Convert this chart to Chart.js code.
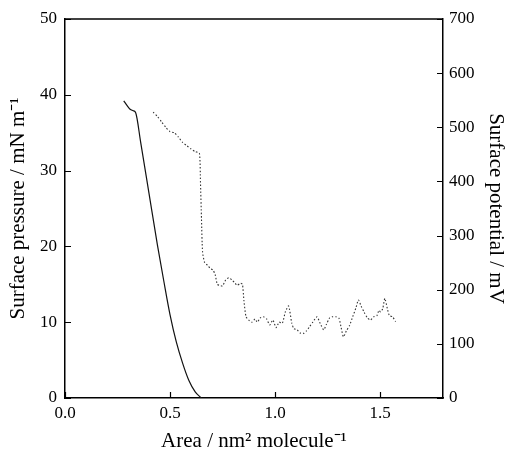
<!DOCTYPE html>
<html><head><meta charset="utf-8">
<script src="https://cdn.jsdelivr.net/npm/chart.js@4/dist/chart.umd.min.js"></script>
<style>html,body{margin:0;padding:0;background:#fff;}canvas{display:block;}</style>
</head><body>
<canvas id="c" width="508" height="454"></canvas>
<script>
// ---- data ----
const pressureArea   = [0.28,0.295,0.31,0.325,0.337,0.36,0.40,0.44,0.47,0.50,0.53,0.56,0.59,0.62,0.649];
const pressureValues = [39.2,38.6,38.1,37.9,37.6,33.8,27.0,20.2,15.5,11.0,7.4,4.6,2.3,0.8,0];
const potentialArea  = [0.42,0.44,0.46,0.48,0.50,0.52,0.54,0.56,0.58,0.60,0.62,0.64,0.645,0.65,0.655,0.665,0.68,0.69,0.705,0.715,0.725,0.735,0.75,0.765,0.78,0.795,0.81,0.82,0.835,0.845,0.852,0.862,0.875,0.89,0.905,0.915,0.93,0.945,0.96,0.975,0.99,1.005,1.02,1.035,1.05,1.065,1.08,1.09,1.105,1.12,1.135,1.15,1.165,1.18,1.2,1.215,1.232,1.245,1.26,1.273,1.29,1.305,1.315,1.326,1.34,1.355,1.37,1.385,1.397,1.41,1.425,1.44,1.455,1.47,1.485,1.495,1.503,1.513,1.523,1.535,1.545,1.56,1.574];
const potentialValues= [528,520,510,500,492,490,482,472,466,460,455,452,400,330,270,250,245,240,236,228,210,208,207,218,222,218,212,208,212,210,180,150,144,140,146,140,148,150,146,135,144,130,140,138,160,170,138,128,126,120,119,124,132,140,150,138,126,136,148,150,150,147,130,113,124,134,150,166,181,170,158,148,144,150,152,162,159,165,184,165,152,150,141];
const xTicks  = [0, 0.5, 1.0, 1.5];
const yTicks  = [0, 10, 20, 30, 40, 50];
const y2Ticks = [0, 100, 200, 300, 400, 500, 600, 700];
const xTitle  = 'Area / nm² molecule⁻¹';
const yTitle  = 'Surface pressure / mN m⁻¹';
const y2Title = 'Surface potential / mV';

const FONT = 'Liberation Serif';
const pressurePts  = pressureArea.map((a,i)=>({x:a, y:pressureValues[i]}));
const potentialPts = potentialArea.map((a,i)=>({x:a, y:potentialValues[i]}));

const inwardTicks = {
  id:'inwardTicks',
  afterDraw(chart){
    const ctx = chart.ctx, a = chart.chartArea;
    const sx = chart.scales.x, sy = chart.scales.y, sy2 = chart.scales.y2;
    ctx.save();
    ctx.strokeStyle = '#000'; ctx.lineWidth = 1.5;
    ctx.beginPath(); ctx.moveTo(a.left, a.top); ctx.lineTo(a.right, a.top); ctx.stroke();
    ctx.lineWidth = 1.2;
    ctx.beginPath();
    sx.ticks.forEach(t=>{ const p = Math.round(sx.getPixelForValue(t.value))+0.5; ctx.moveTo(p, a.bottom); ctx.lineTo(p, a.bottom-6); });
    sy.ticks.forEach(t=>{ const p = Math.round(sy.getPixelForValue(t.value))+0.5; ctx.moveTo(a.left, p); ctx.lineTo(a.left+6, p); });
    sy2.ticks.forEach(t=>{ const p = Math.round(sy2.getPixelForValue(t.value))+0.5; ctx.moveTo(a.right, p); ctx.lineTo(a.right-6, p); });
    ctx.stroke();
    ctx.restore();
  }
};

new Chart(document.getElementById('c'), {
  type: 'scatter',
  data: { datasets: [
    { data: pressurePts, yAxisID:'y', showLine:true, borderColor:'#111', borderWidth:1.2, pointRadius:0, cubicInterpolationMode:'monotone', fill:false },
    { data: potentialPts, yAxisID:'y2', showLine:true, borderColor:'#333', borderWidth:1.1, borderDash:[1.5,2], pointRadius:0, tension:0.2, fill:false }
  ]},
  options: {
    responsive:false, animation:false,
    layout:{ padding:{ top:19, left:0, right:0, bottom:0 } },
    plugins:{ legend:{display:false}, tooltip:{enabled:false} },
    scales:{
      x:{ type:'linear', min:0, max:1.8,
        afterBuildTicks(s){ s.ticks = xTicks.map(v=>({value:v})); },
        afterFit(s){ s.height = 56; },
        grid:{ drawOnChartArea:false, drawTicks:false },
        border:{ display:true, color:'#000', width:1.5 },
        ticks:{ color:'#000', font:{family:FONT, size:17}, padding:5, maxRotation:0, callback:v=>Number(v).toFixed(1) },
        title:{ display:true, text:xTitle, color:'#000', font:{family:FONT, size:21}, padding:{top:2,bottom:0} }
      },
      y:{ type:'linear', position:'left', min:0, max:50,
        afterBuildTicks(s){ s.ticks = yTicks.map(v=>({value:v})); },
        afterFit(s){ s.width = 65; },
        grid:{ drawOnChartArea:false, drawTicks:false },
        border:{ display:true, color:'#000', width:1.5 },
        ticks:{ color:'#000', font:{family:FONT, size:17}, padding:8 },
        title:{ display:true, text:yTitle, color:'#000', font:{family:FONT, size:21}, padding:{top:6,bottom:0} }
      },
      y2:{ type:'linear', position:'right', min:0, max:700,
        afterBuildTicks(s){ s.ticks = y2Ticks.map(v=>({value:v})); },
        afterFit(s){ s.width = 65; },
        grid:{ drawOnChartArea:false, drawTicks:false },
        border:{ display:true, color:'#000', width:1.5 },
        ticks:{ color:'#000', font:{family:FONT, size:17}, padding:6 },
        title:{ display:true, text:y2Title, color:'#000', font:{family:FONT, size:21}, padding:{top:0,bottom:4} }
      }
    }
  },
  plugins:[inwardTicks]
});
</script>
</body></html>
